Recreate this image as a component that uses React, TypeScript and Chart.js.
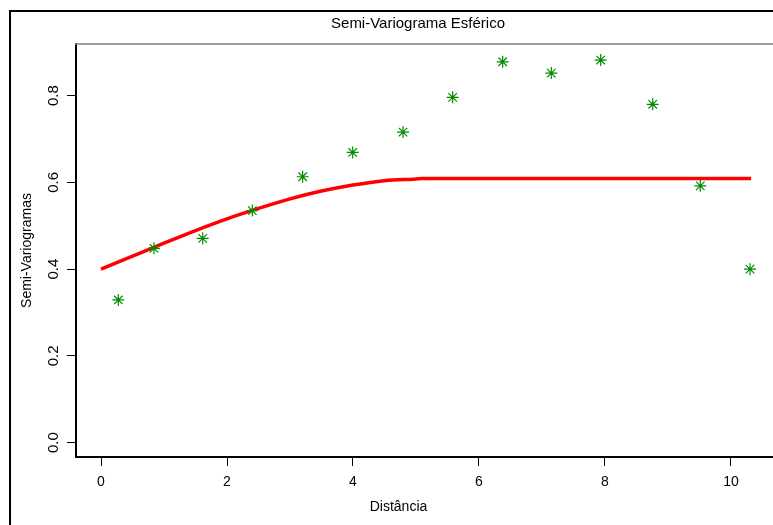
import React, { useEffect, useRef } from "react";
import { Chart, registerables } from "chart.js";

Chart.register(...registerables);

// Empirical semivariogram (green asterisks)
const distances = [0.275, 0.841, 1.614, 2.402, 3.201, 3.995, 4.794, 5.582, 6.376, 7.148, 7.932, 8.757, 9.513, 10.302];
const semivariances = [0.329, 0.448, 0.471, 0.535, 0.613, 0.669, 0.716, 0.796, 0.878, 0.852, 0.882, 0.78, 0.592, 0.4];

// Fitted spherical model (red line)
const modelDistances = [0, 0.5, 1, 1.5, 2, 2.5, 3, 3.5, 4, 4.5, 5, 5.1, 10.32];
const modelValues = [0.4, 0.43, 0.46, 0.489, 0.516, 0.54, 0.562, 0.58, 0.594, 0.604, 0.608, 0.609, 0.609];

const xTicks = [0, 2, 4, 6, 8, 10];
const yTicks = [0, 0.2, 0.4, 0.6, 0.8];
const yTickLabels = ["0.0", "0.2", "0.4", "0.6", "0.8"];

const chartTitle = "Semi-Variograma Esférico";
const xLabel = "Distância";
const yLabel = "Semi-Variogramas";

const FONT = '"Liberation Sans", Arial, sans-serif';

const decorPlugin = {
  id: "decor",
  beforeDraw(chart: any) {
    const { ctx } = chart;
    ctx.save();
    ctx.fillStyle = "#ffffff";
    ctx.fillRect(0, 0, chart.width, chart.height);
    ctx.restore();
  },
  afterDraw(chart: any) {
    const { ctx, chartArea } = chart;
    ctx.save();
    // outer frame: only the left and top edges fall inside the picture
    ctx.strokeStyle = "#000000";
    ctx.lineWidth = 2;
    ctx.beginPath();
    ctx.moveTo(10, chart.height);
    ctx.lineTo(10, 11);
    ctx.lineTo(chart.width, 11);
    ctx.stroke();
    // top edge of plot box
    ctx.strokeStyle = "#808080";
    ctx.lineWidth = 1.5;
    ctx.beginPath();
    ctx.moveTo(chartArea.left - 1, chartArea.top);
    ctx.lineTo(chartArea.right, chartArea.top);
    ctx.stroke();
    // title
    ctx.fillStyle = "#000000";
    ctx.textAlign = "center";
    ctx.textBaseline = "middle";
    ctx.font = "15px " + FONT;
    ctx.fillText(chartTitle, chartArea.left + 342, 24);
    // x label
    ctx.font = "14px " + FONT;
    ctx.fillText(xLabel, chartArea.left + 322.5, 507);
    ctx.restore();
  },
};

export default function App() {
  const canvasRef = useRef<HTMLCanvasElement | null>(null);

  useEffect(() => {
    const canvas = canvasRef.current;
    if (!canvas) return;
    const chart = new Chart(canvas, {
      type: "scatter",
      data: {
        datasets: [
          {
            label: "empírico",
            data: distances.map((x, i) => ({ x, y: semivariances[i] })),
            pointStyle: "star",
            pointRadius: 6,
            pointHoverRadius: 6,
            borderColor: "#008B00",
            backgroundColor: "#008B00",
            borderWidth: 1.2,
            showLine: false,
            order: 0,
          },
          {
            label: "esférico",
            data: modelDistances.map((x, i) => ({ x, y: modelValues[i] })),
            showLine: true,
            borderColor: "#ff0000",
            borderWidth: 3.5,
            pointRadius: 0,
            pointHoverRadius: 0,
            cubicInterpolationMode: "monotone",
            fill: false,
            order: 1,
          },
        ],
      },
      options: {
        responsive: false,
        maintainAspectRatio: false,
        animation: false,
        devicePixelRatio: 1,
        layout: { autoPadding: false, padding: { top: 44, left: 0, right: 0, bottom: 0 } },
        plugins: {
          legend: { display: false },
          title: { display: false },
          tooltip: { enabled: false },
        },
        scales: {
          x: {
            type: "linear",
            position: "bottom",
            min: -0.397,
            max: 10.667,
            afterBuildTicks: (scale: any) => {
              scale.ticks = xTicks.map((v) => ({ value: v }));
            },
            afterFit: (scale: any) => {
              scale.height = 68;
              scale.paddingLeft = 0;
              scale.paddingRight = 0;
            },
            grid: {
              drawOnChartArea: false,
              drawTicks: true,
              tickLength: 9,
              color: "#000000",
              lineWidth: 1,
            },
            border: { display: true, color: "#000000", width: 2 },
            ticks: {
              padding: 8,
              color: "#000000",
              font: { family: FONT, size: 14 },
              maxRotation: 0,
              minRotation: 0,
              callback: (v: any) => String(v),
            },
            title: { display: false },
          },
          y: {
            type: "linear",
            position: "left",
            min: -0.033,
            max: 0.919,
            afterBuildTicks: (scale: any) => {
              scale.ticks = yTicks.map((v) => ({ value: v }));
            },
            afterFit: (scale: any) => {
              scale.width = 76;
              scale.paddingTop = 0;
              scale.paddingBottom = 0;
            },
            grid: {
              drawOnChartArea: false,
              drawTicks: true,
              tickLength: 9,
              color: "#000000",
              lineWidth: 1,
            },
            border: { display: true, color: "#000000", width: 2 },
            ticks: {
              padding: 3,
              color: "#000000",
              font: { family: FONT, size: 15 },
              minRotation: 90,
              maxRotation: 90,
              crossAlign: "center",
              callback: (v: any) => {
                const i = yTicks.findIndex((t) => Math.abs(t - v) < 1e-9);
                return i >= 0 ? yTickLabels[i] : "";
              },
            },
            title: {
              display: true,
              text: yLabel,
              color: "#000000",
              font: { family: '"Liberation Sans Narrow", "Liberation Sans", Arial, sans-serif', size: 14 },
              padding: { top: 19, bottom: 0 },
            },
          },
        },
      },
      plugins: [decorPlugin],
    } as any);
    return () => chart.destroy();
  }, []);

  return (
    <div
      style={{
        position: "fixed",
        left: 0,
        top: 0,
        width: 773,
        height: 525,
        overflow: "hidden",
        background: "#ffffff",
      }}
    >
      <canvas ref={canvasRef} width={773} height={525} style={{ display: "block", width: 773, height: 525 }} />
    </div>
  );
}
